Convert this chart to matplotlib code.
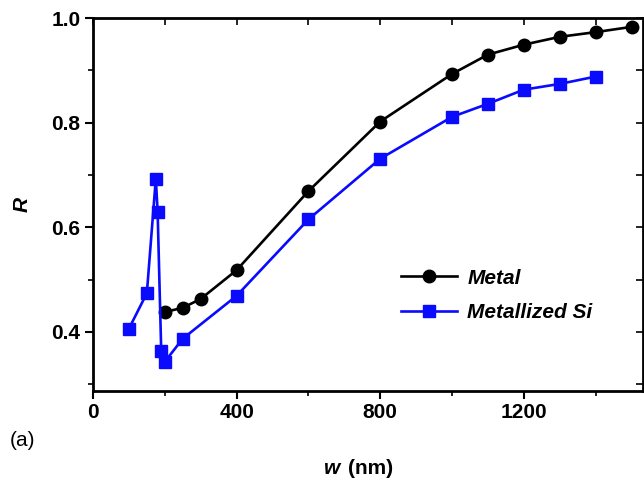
import matplotlib
matplotlib.use("Agg")
import matplotlib.pyplot as plt
from matplotlib.ticker import MultipleLocator

plt.rcParams['font.family'] = ['Liberation Sans', 'DejaVu Sans']

metal_w = [200, 250, 300, 400, 600, 800, 1000, 1100, 1200, 1300, 1400, 1500]
metal_R = [0.438, 0.446, 0.463, 0.518, 0.669, 0.802, 0.893, 0.930, 0.949, 0.964, 0.973, 0.983]

si_w = [100, 150, 175, 180, 190, 200, 250, 400, 600, 800, 1000, 1100, 1200, 1300, 1400]
si_R = [0.406, 0.474, 0.693, 0.630, 0.364, 0.343, 0.387, 0.469, 0.615, 0.731, 0.811, 0.836, 0.863, 0.874, 0.888]

x_ticks = [0, 400, 800, 1200]
y_ticks = [0.4, 0.6, 0.8, 1.0]

fig = plt.figure(figsize=(6.44, 4.87), dpi=100)
ax = fig.add_axes([93/644, 1-391/487, 550/644, (391-18)/487])

ax.plot(metal_w, metal_R, '-o', color='black', lw=1.9, ms=9, label='Metal')
ax.plot(si_w, si_R, '-s', color='#0a0aff', lw=1.9, ms=8.5, label='Metallized Si')

ax.set_xlim(0, 1532)
ax.set_ylim(0.287, 1.0)
ax.set_xticks(x_ticks)
ax.set_yticks(y_ticks)
ax.set_yticklabels([f"{v:.1f}" for v in y_ticks])
ax.xaxis.set_minor_locator(MultipleLocator(200))
ax.yaxis.set_minor_locator(MultipleLocator(0.1))

for s in ax.spines.values():
    s.set_linewidth(2)

ax.tick_params(which='major', direction='out', length=6, width=1.5,
               labelsize=15, pad=3)
ax.tick_params(which='minor', direction='out', length=3.5, width=1.2)
for lab in ax.get_xticklabels() + ax.get_yticklabels():
    lab.set_fontweight('bold')

top = ax.secondary_xaxis('top')
top.set_xticks([200*i for i in range(8)])
top.tick_params(direction='in', length=5, width=1.2, labeltop=False)
top.spines['top'].set_visible(False)
right = ax.secondary_yaxis('right')
right.set_yticks([0.3, 0.4, 0.5, 0.6, 0.7, 0.8, 0.9, 1.0])
right.tick_params(direction='in', length=5, width=1.2, labelright=False)
right.spines['right'].set_visible(False)

fig.text(0.529, 1-468/487, 'w', fontsize=15, fontweight='bold', style='italic', ha='right', va='center')
fig.text(0.540, 1-468/487, '(nm)', fontsize=15, fontweight='bold', ha='left', va='center')
ax.set_ylabel('R', fontsize=15, fontweight='bold', style='italic', labelpad=14)

fig.text(10/644, 1-440/487, '(a)', fontsize=15, va='center', ha='left')

leg = ax.legend(loc='upper left', bbox_to_anchor=(0.525, 0.378), frameon=False,
                prop={'size': 15, 'weight': 'bold', 'style': 'italic'},
                handlelength=2.7, labelspacing=0.75, handletextpad=0.5)

fig.savefig('out.png', dpi=100)
